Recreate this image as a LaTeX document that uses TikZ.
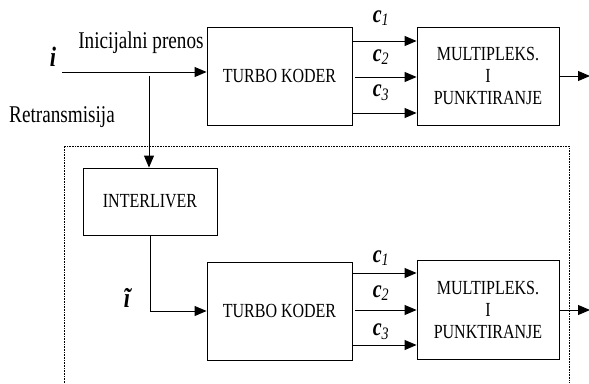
\documentclass[tikz,border=0pt]{standalone}
\usepackage{fontspec}
\setmainfont{Liberation Serif}[FakeStretch=0.8]
\usepackage{tikz}
\usetikzlibrary{arrows.meta,positioning}

\begin{document}
\begin{tikzpicture}[x=1pt,y=-1pt,
box/.style={draw,line width=0.9pt,inner sep=0pt,align=center,font=\fontsize{20}{22}\selectfont},
arrow/.style={-{Triangle[length=12pt,width=10pt]},line width=0.9pt},
lbl/.style={font=\fontsize{24}{26}\selectfont,inner sep=0pt},
clbl/.style={font=\fontsize{25}{27}\selectfont\bfseries\itshape,inner sep=0pt}]
\useasboundingbox (0,0) rectangle (589,383);
% frame of the retransmission path
\draw[densely dotted,line width=0.6pt] (64,383) |- (569,146) -- (569,383);
% initial transmission
\node[box,minimum width=145pt,minimum height=98pt] (tk1) at (279.5,76) {TURBO KODER};
\node[box,minimum width=142pt,minimum height=98pt] (mux1) at (488,76) {MULTIPLEKS.\\I\\PUNKTIRANJE};
\coordinate (in) at (62,72);
\coordinate (branch) at (149,76);
\coordinate (out1) at (590,76);
\node[clbl,font=\fontsize{28}{30}\selectfont\bfseries\itshape] (i) at (53,57) {i};
\node[lbl] (init) at (141,43) {Inicijalni prenos};
\node[lbl] (retr) at (62,117) {Retransmisija};
\draw[arrow] (in) -- (in -| tk1.west);
\draw[arrow] ([yshift=35pt]tk1.east) -- ([yshift=35pt]mux1.west);
\draw[arrow] ([xshift=3pt,yshift=-1pt]tk1.east) -- ([yshift=-1pt]mux1.west);
\draw[arrow] ([yshift=-37pt]tk1.east) -- ([yshift=-37pt]mux1.west);
\draw[arrow] (mux1.east) -- (out1);
\node[clbl] (c11) at (381,18) {c\textsubscript{\mdseries 1}};
\node[clbl] (c12) at (381,57) {c\textsubscript{\mdseries 2}};
\node[clbl] (c13) at (381,93) {c\textsubscript{\mdseries 3}};
% retransmission
\node[box,minimum width=134pt,minimum height=67pt] (il) at (150,201.5) {INTERLIVER};
\node[box,minimum width=145pt,minimum height=98pt] (tk2) at (279.5,311) {TURBO KODER};
\node[box,minimum width=142pt,minimum height=99pt] (mux2) at (488,309.5) {MULTIPLEKS.\\I\\PUNKTIRANJE};
\coordinate (out2) at (590,310);
\node[clbl,font=\fontsize{28}{30}\selectfont\bfseries\itshape] (it) at (127,298) {ĩ};
\draw[arrow] (branch) -- (branch |- il.north);
\draw[arrow] (il.south) |- (tk2.west);
\draw[arrow] ([yshift=38pt]tk2.east) -- ([yshift=38pt]tk2.east -| mux2.west);
\draw[arrow] ([xshift=3pt,yshift=1pt]tk2.east) -- ([yshift=1pt]tk2.east -| mux2.west);
\draw[arrow] ([yshift=-34pt]tk2.east) -- ([yshift=-34pt]tk2.east -| mux2.west);
\draw[arrow] (mux2.east |- out2) -- (out2);
\node[clbl] (c21) at (381,258) {c\textsubscript{\mdseries 1}};
\node[clbl] (c22) at (381,293) {c\textsubscript{\mdseries 2}};
\node[clbl] (c23) at (381,332) {c\textsubscript{\mdseries 3}};
\end{tikzpicture}
\end{document}
